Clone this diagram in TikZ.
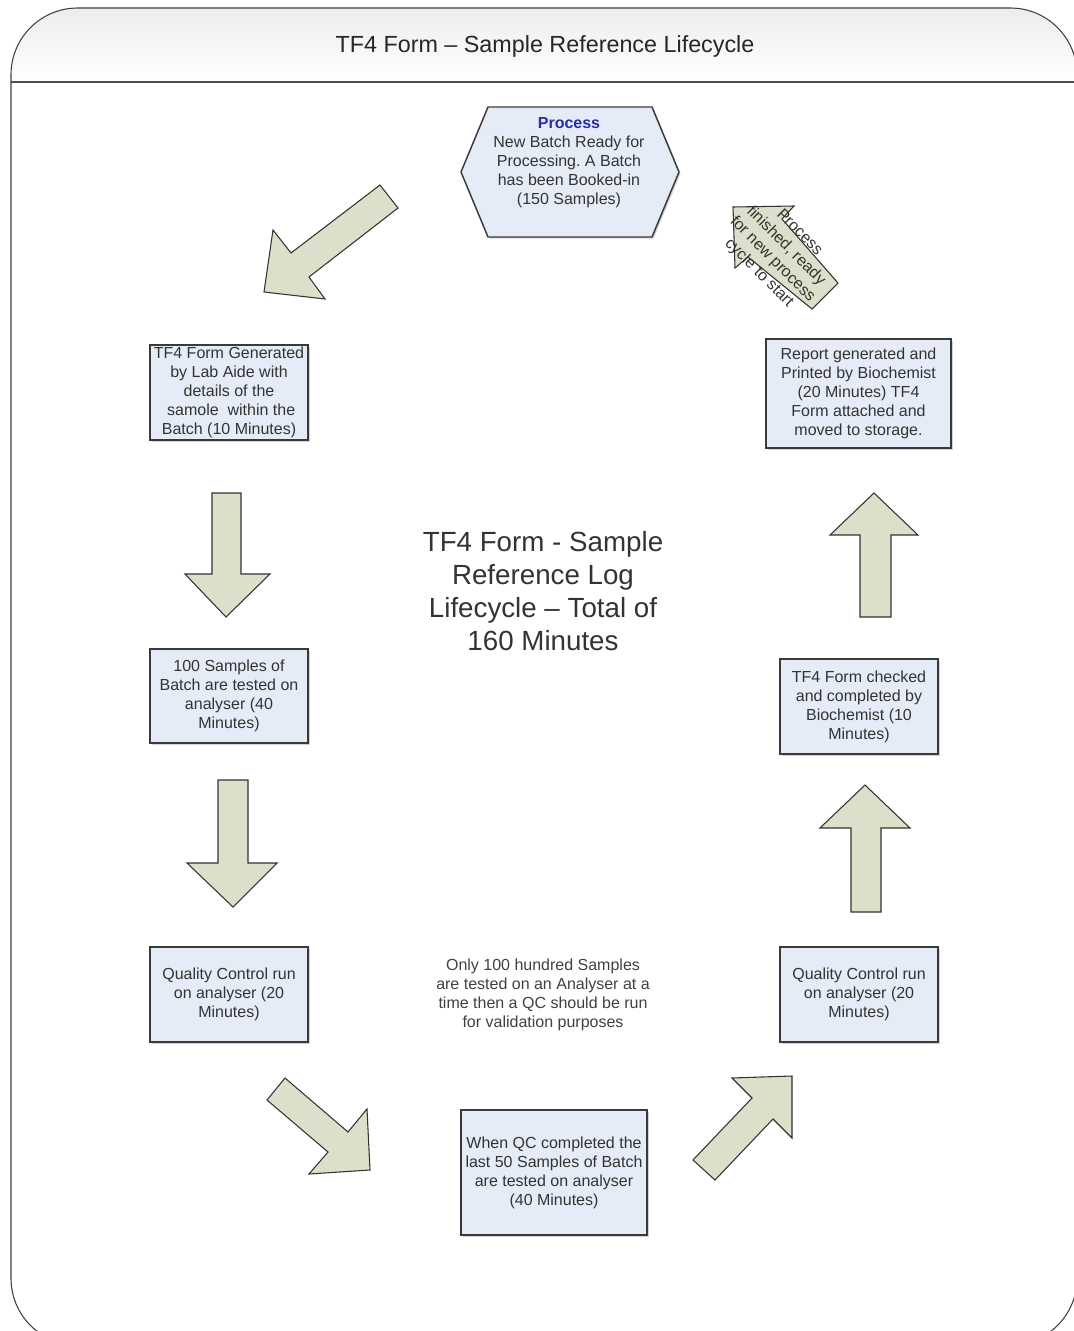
\documentclass[tikz,border=0pt]{standalone}
\usepackage{fontspec}
\setmainfont{Liberation Sans}
\usetikzlibrary{shadows}
\definecolor{boxfill}{HTML}{E6ECF7}
\definecolor{boxline}{HTML}{3A3A3A}
\definecolor{arrfill}{HTML}{DCE0CA}
\definecolor{arrline}{HTML}{333333}
\definecolor{txt}{HTML}{333333}
\definecolor{procblue}{HTML}{2B2BA8}
\frenchspacing
\begin{document}
\begin{tikzpicture}[x=0.75pt,y=-0.75pt,
  boxtxt/.style={font=\fontsize{12}{14.25}\selectfont,text=txt,align=center},
  box/.style={boxtxt,draw=boxline,fill=boxfill,line width=1.1pt,inner sep=0pt,
    drop shadow={shadow xshift=1.2pt,shadow yshift=-1.2pt,opacity=0.35}},
  blockarrow/.style={draw=arrline,fill=arrfill,line width=0.8pt,line join=miter}]
\clip (0,0) rectangle (1074,1331);
% frame
\begin{scope}
\clip[rounded corners=50pt] (11,8) rectangle (1077,1345);
\shade[top color=black!8,bottom color=white] (0,0) rectangle (1080,82);
\end{scope}
\draw[black!75,line width=0.8pt,rounded corners=50pt] (11,8) rectangle (1077,1345);
\draw[black!70,line width=1.6pt] (11,82) -- (1077,82);
\node[font=\fontsize{17.5}{20}\selectfont,text=black!85] (title) at (545,46) {TF4 Form – Sample Reference Lifecycle};
% hexagon
\draw[draw=boxline,fill=boxfill,line width=1.1pt,
  drop shadow={shadow xshift=1.2pt,shadow yshift=-1.2pt,opacity=0.35}]
  (488,107) -- (652,107) -- (679,172) -- (652,237) -- (488,237) -- (461,172) -- cycle;
\node[boxtxt] (proc) at (569,163) {{\bfseries\color{procblue}Process}\\New Batch Ready for\\Processing. A Batch\\has been Booked-in\\(150 Samples)};
% boxes
\node[box,minimum width=118.5pt,minimum height=71.25pt] (b1) at (229,392.5) {TF4 Form Generated\\by Lab Aide with\\details of the\\~samole~~within the\\Batch (10 Minutes)};
\node[box,minimum width=118.5pt,minimum height=70.5pt] (b2) at (229,696) {100 Samples of\\Batch are tested on\\analyser (40\\Minutes)};
\node[box,minimum width=118.5pt,minimum height=71.25pt] (b3) at (229,994.5) {Quality Control run\\on analyser (20\\Minutes)};
\node[box,minimum width=139.5pt,minimum height=93.75pt] (b4) at (554,1172.5) {When QC completed the\\last 50 Samples of Batch\\are tested on analyser\\(40 Minutes)};
\node[box,minimum width=118.5pt,minimum height=71.25pt] (b5) at (859,994.5) {Quality Control run\\on analyser (20\\Minutes)};
\node[box,minimum width=118.5pt,minimum height=71.25pt] (b6) at (859,706.5) {TF4 Form checked\\and completed by\\Biochemist (10\\Minutes)};
\node[box,minimum width=138.75pt,minimum height=81.75pt] (b7) at (858.5,393.5) {Report generated and\\Printed by Biochemist\\(20 Minutes) TF4\\Form attached and\\moved to storage.};
% texts
\node[align=center,font=\fontsize{20.8}{24.75}\selectfont,text=txt] (centre) at (543,591.5) {TF4 Form - Sample\\Reference Log\\Lifecycle – Total of\\160 Minutes};
\node[boxtxt,text=black!75] (note) at (543,995) {Only 100 hundred Samples\\are tested on an Analyser at a\\time then a QC should be run\\for validation purposes};
% block arrows
\draw[blockarrow] (380,185) -- (398,208) -- (309,277) -- (325,299) -- (264,292) -- (273,230) -- (291,253) -- cycle;
\draw[blockarrow] (212,493) -- (241,493) -- (241,574) -- (270,574) -- (226,617) -- (185,574) -- (212,574) -- cycle;
\draw[blockarrow] (218,780) -- (248,780) -- (248,863) -- (277,863) -- (233,907) -- (187,863) -- (218,863) -- cycle;
\draw[blockarrow] (285,1078) -- (348,1132) -- (367,1109) -- (370,1170) -- (309,1174) -- (328,1152) -- (267,1100) -- cycle;
\draw[blockarrow] (693,1160) -- (752,1098) -- (732,1078) -- (792,1076) -- (792,1138) -- (773,1119) -- (715,1180) -- cycle;
\draw[blockarrow] (851,912) -- (851,828) -- (820,828) -- (865,785) -- (910,828) -- (881,828) -- (881,912) -- cycle;
\draw[blockarrow] (860,617) -- (860,535) -- (830,535) -- (874,493) -- (918,535) -- (891,535) -- (891,617) -- cycle;
\draw[blockarrow] (733,207) -- (794,206) -- (782,219) -- (838,283) -- (812,309) -- (748,257) -- (735,268) -- cycle;
\node[boxtxt,rotate=-45] (restart) at (779,253) {Process\\finished, ready\\for new process\\cycle to start};
\end{tikzpicture}
\end{document}
